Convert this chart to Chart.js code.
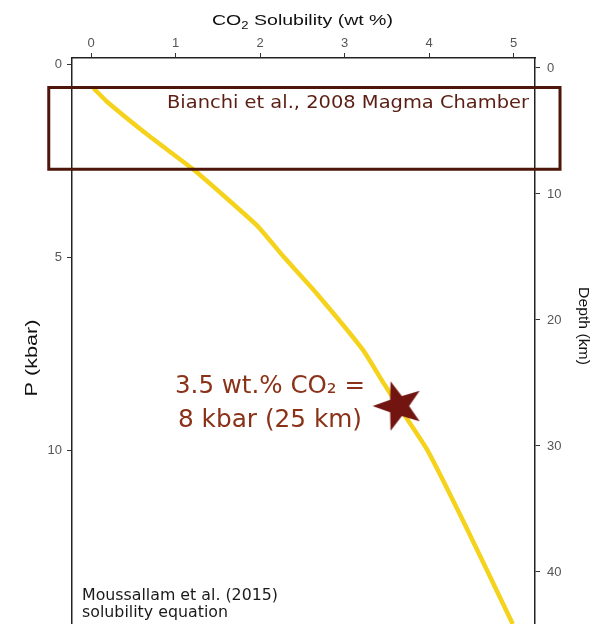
<!DOCTYPE html>
<html lang="en">
<head>
<meta charset="UTF-8">
<title>CO2 solubility vs pressure</title>
<style>
  html, body { margin: 0; padding: 0; background: #fff; }
  .chartBox { width: 595px; height: 624px; }
</style>
</head>
<body>
<div class="chartBox"><canvas id="myChart"></canvas></div>
<script src="https://cdn.jsdelivr.net/npm/chart.js"></script>
<script>
// solubility curve (Moussallam et al. 2015)
const solubility = [0.03, 0.19, 0.70, 1.23, 1.96, 2.28, 2.67, 3.22, 3.46, 3.63, 3.98, 4.40, 4.99];
const pressure   = [0.62, 0.97, 1.88, 2.76, 4.17, 4.99, 5.94, 7.41, 8.26, 8.83, 10.0, 11.82, 14.51];

// magma chamber box (Bianchi et al. 2008)
const chamberX = [-0.5, 5.55];
const chamberP = [0.6, 2.72];

// starred point: 3.5 wt.% CO2 = 8 kbar (25 km)
const starX = [3.64];
const starP = [8.86];

const xTicks = [0, 1, 2, 3, 4, 5];
const pTicks = [0, 5, 10];
const depthTicks = [0, 10, 20, 30, 40];

const curveData = solubility.map((v, i) => ({ x: v, y: pressure[i] }));
const boxData = [
  { x: chamberX[0], y: chamberP[0] }, { x: chamberX[1], y: chamberP[0] },
  { x: chamberX[1], y: chamberP[1] }, { x: chamberX[0], y: chamberP[1] },
  { x: chamberX[0], y: chamberP[0] }, { x: chamberX[1], y: chamberP[0] }
];
const starData = starX.map((v, i) => ({ x: v, y: starP[i] }));

function starCanvas(r, inner, rot, color) {
  const c = document.createElement('canvas');
  const s = Math.ceil(r * 2 + 4);
  c.width = c.height = s;
  const g = c.getContext('2d');
  g.translate(s / 2, s / 2);
  g.beginPath();
  for (let i = 0; i < 10; i++) {
    const a = rot + i * Math.PI / 5;
    const rr = i % 2 ? inner : r;
    g.lineTo(rr * Math.cos(a), rr * Math.sin(a));
  }
  g.closePath();
  g.fillStyle = color;
  g.fill();
  return c;
}

// text squeezed/stretched to the length it has in the figure
function fitText(ctx, str, x, y, font, color, len, rot, align, base) {
  ctx.save();
  ctx.translate(x, y);
  ctx.rotate(rot || 0);
  ctx.font = font;
  const w = ctx.measureText(str).width;
  ctx.scale(len / w, 1);
  ctx.fillStyle = color;
  ctx.textAlign = align || 'left';
  ctx.textBaseline = base || 'alphabetic';
  ctx.fillText(str, 0, 0);
  ctx.restore();
}

const labels = {
  id: 'labels',
  afterDraw(chart) {
    const ctx = chart.ctx;
    const sans = '"Liberation Sans", Arial, sans-serif';
    const dv = '"DejaVu Sans", Verdana, sans-serif';

    // top axis title with subscript 2
    ctx.save();
    const parts = [['CO', 15, 0], ['2', 10, 4], [' Solubility (wt %)', 15, 0]];
    let total = 0;
    parts.forEach(p => { ctx.font = p[1] + 'px ' + sans; total += ctx.measureText(p[0]).width; });
    ctx.translate(212, 25);
    ctx.scale(181 / total, 1);
    ctx.fillStyle = '#111';
    let cx = 0;
    parts.forEach(p => {
      ctx.font = p[1] + 'px ' + sans;
      ctx.fillText(p[0], cx, p[2]);
      cx += ctx.measureText(p[0]).width;
    });
    ctx.restore();

    fitText(ctx, 'P (kbar)', 33, 358, '16px ' + sans, '#111', 77, -Math.PI / 2, 'center', 'middle');
    fitText(ctx, 'Depth (km)', 583, 326, '15px ' + sans, '#111', 78, Math.PI / 2, 'center', 'middle');

    fitText(ctx, 'Bianchi et al., 2008 Magma Chamber', 167, 108, '17px ' + dv, '#5a1e12', 362);
    fitText(ctx, '3.5 wt.% CO\u2082 =', 175, 393, '24px ' + dv, '#8a3218', 190);
    fitText(ctx, '8 kbar (25 km)', 178, 427, '24px ' + dv, '#8a3218', 184);
    fitText(ctx, 'Moussallam et al. (2015)', 82, 600, '15px ' + dv, '#1a1a1a', 196);
    fitText(ctx, 'solubility equation', 82, 617, '15px ' + dv, '#1a1a1a', 146);
  }
};

const noPad = s => { s.paddingTop = 0; s.paddingBottom = 0; s.paddingLeft = 0; s.paddingRight = 0; };
const tickFont = { family: '"Liberation Sans", Arial, sans-serif', size: 13 };
const axisGrid = { drawOnChartArea: false, tickLength: 5, color: '#333', lineWidth: 1 };
const axisBorder = { color: '#222', width: 1.5 };

const ctx = document.getElementById('myChart').getContext('2d');
const myChart = new Chart(ctx, {
  type: 'scatter',
  data: {
    datasets: [
      {
        label: 'star',
        data: starData,
        pointStyle: starCanvas(26, 10.5, Math.PI, '#721510'),
        pointRadius: 10,
        order: 0
      },
      {
        label: 'chamber',
        data: boxData,
        showLine: true,
        borderColor: '#4e150b',
        borderWidth: 3,
        borderCapStyle: 'square',
        borderJoinStyle: 'miter',
        pointRadius: 0,
        clip: false,
        order: 1
      },
      {
        label: 'CO2 solubility',
        data: curveData,
        showLine: true,
        borderColor: '#f5d21c',
        borderWidth: 4.5,
        borderJoinStyle: 'round',
        pointRadius: 0,
        tension: 0.15,
        order: 2
      }
    ]
  },
  options: {
    responsive: true,
    maintainAspectRatio: false,
    animation: false,
    events: [],
    layout: { padding: 0, autoPadding: false },
    plugins: { legend: { display: false }, tooltip: { enabled: false } },
    scales: {
      x: {
        type: 'linear',
        position: 'top',
        min: -0.225,
        max: 5.254,
        afterBuildTicks: s => { s.ticks = xTicks.map(v => ({ value: v })); },
        afterFit: s => { s.height = 58; noPad(s); },
        grid: axisGrid,
        border: axisBorder,
        ticks: { font: tickFont, color: '#555', padding: 2, maxRotation: 0 }
      },
      y: {
        type: 'linear',
        position: 'left',
        reverse: true,
        min: -0.163,
        max: 14.51,
        afterBuildTicks: s => { s.ticks = pTicks.map(v => ({ value: v })); },
        afterFit: s => { s.width = 72; noPad(s); },
        grid: axisGrid,
        border: axisBorder,
        ticks: { font: tickFont, color: '#555', padding: 5 }
      },
      y2: {
        type: 'linear',
        position: 'right',
        reverse: true,
        min: -0.79,
        max: 44.13,
        afterBuildTicks: s => { s.ticks = depthTicks.map(v => ({ value: v })); },
        afterFit: s => { s.width = 60; noPad(s); },
        grid: axisGrid,
        border: axisBorder,
        ticks: { font: tickFont, color: '#555', padding: 7 }
      }
    }
  },
  plugins: [labels]
});
</script>
</body>
</html>
